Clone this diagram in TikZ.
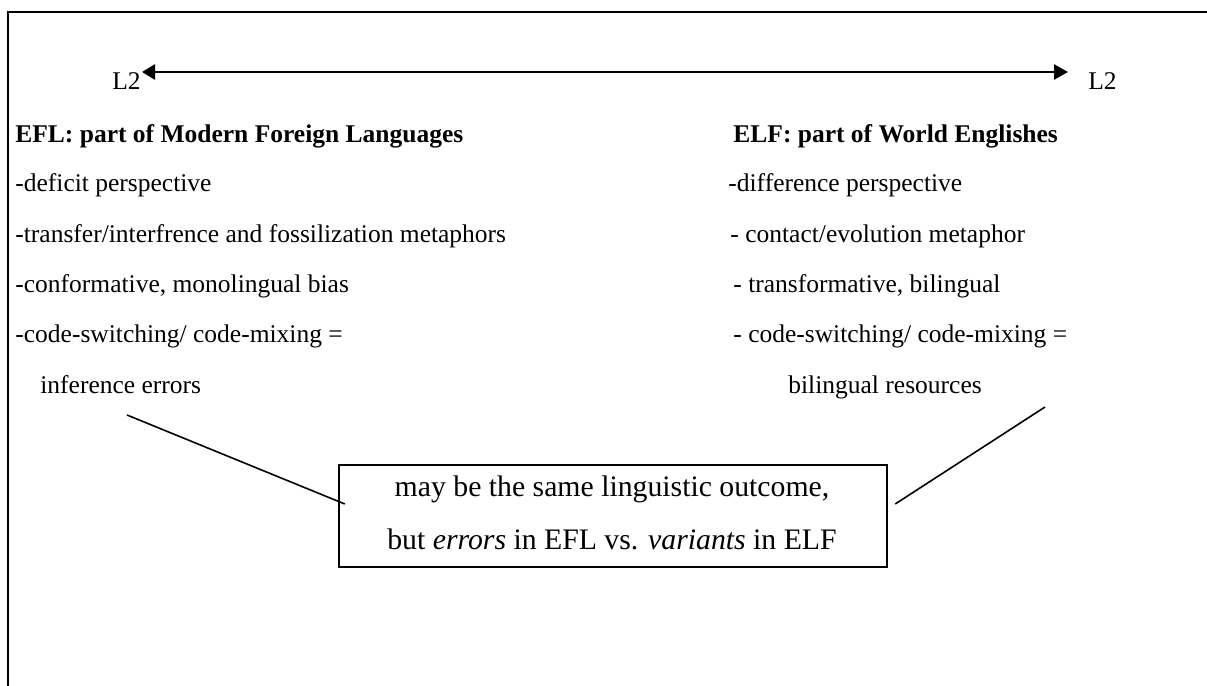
\documentclass[tikz,border=0pt]{standalone}
\usepackage{fontspec}
\setmainfont{Liberation Serif}
\usetikzlibrary{calc,arrows.meta}
\tikzset{
  txt/.style={inner sep=0pt, anchor=base west, font=\fontsize{12.75}{15}\selectfont},
  ttl/.style={inner sep=0pt, anchor=base west, font=\fontsize{12.75}{15}\selectfont\bfseries},
  boxtxt/.style={inner sep=0pt, anchor=base, font=\fontsize{14.875}{18}\selectfont},
  outcomebox/.style={draw, line width=1.2pt, minimum width=274pt, minimum height=51pt, inner sep=0pt},
  frameline/.style={line width=1.3pt},
  scaleline/.style={line width=1.3pt, {Triangle[length=6.5pt,width=7.5pt]}-{Triangle[length=7pt,width=7.5pt]}},
  pointer/.style={line width=0.8pt}
}
\begin{document}
\begin{tikzpicture}[x=0.5pt,y=-0.5pt]
\useasboundingbox (0,0) rectangle (1207,686);
\fill[white] (0,0) rectangle (1207,686);
% frame (top and left edges only)
\draw[frameline] (8,686) -- (8,12) -- (1207,12);
% scale arrow
\node[txt] (l2l) at (112,89) {L2};
\node[txt] (l2r) at (1088,89) {L2};
\coordinate (al) at (142,72);
\coordinate (ar) at (1068,72);
\draw[scaleline] (al) -- (ar);
% left column
\node[ttl] (efl) at (15,142) {EFL: part of Modern Foreign Languages};
\node[txt] (l1) at (15,191) {-deficit perspective};
\node[txt] (l2) at (15,242) {-transfer/interfrence and fossilization metaphors};
\node[txt] (l3) at (15,292) {-conformative, monolingual bias};
\node[txt] (l4) at (15,342) {-code-switching/ code-mixing =};
\node[txt] (l5) at (40,393) {inference errors};
% right column
\node[ttl] (elf) at (733,142) {ELF: part of World Englishes};
\node[txt] (r1) at (728,191) {-difference perspective};
\node[txt] (r2) at (730,242) {- contact/evolution metaphor};
\node[txt] (r3) at (733,292) {- transformative, bilingual};
\node[txt] (r4) at (733,342) {- code-switching/ code-mixing =};
\node[txt] (r5) at (788,393) {bilingual resources};
% central box
\node[outcomebox] (box) at (613,516) {};
\node[boxtxt] (bt1) at (612,496) {may be the same linguistic outcome,};
\node[boxtxt] (bt2) at (612,549) {but \textit{errors} in EFL vs. \textit{variants} in ELF};
% pointers
\coordinate (pl) at (127,415);
\coordinate (pr) at (1045,407);
\draw[pointer] (pl) -- ($(box.west)+(7,-12)$);
\draw[pointer] (pr) -- ($(box.east)+(7,-12)$);
\end{tikzpicture}
\end{document}
